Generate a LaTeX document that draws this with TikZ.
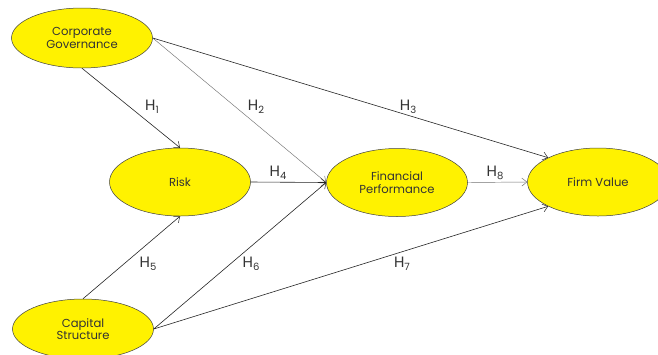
\documentclass[tikz,border=0pt]{standalone}
\usepackage{fontspec}
\setmainfont{Poppins}
\usetikzlibrary{shapes.geometric,arrows.meta}
\newcommand\Hlab[1]{H\raisebox{-0.4ex}{\fontsize{10}{10}\selectfont #1}}
\begin{document}
\begin{tikzpicture}[x=1pt,y=-1pt,
  construct/.style={ellipse,draw=black!75,line width=0.5pt,fill=yellow,
    minimum width=141pt,minimum height=#1,inner sep=0pt,align=center,
    font=\fontsize{11.6}{12.5}\selectfont,text=black!80},
  construct/.default=68pt,
  path/.style={draw=black!85,line width=0.6pt,-{Straight Barb[length=5pt,width=8pt,line width=0.5pt]}},
  lightpath/.style={path,draw=black!55,line width=0.45pt},
  hlab/.style={font=\fontsize{15}{15}\selectfont,text=black!80,inner sep=0pt}]
\useasboundingbox (0,0) rectangle (658,354);
\fill[white] (0,0) rectangle (658,354);
\node[construct=60pt] (cg) at (82,38) {Corporate\\Governance};
\node[construct] (risk) at (180,182) {Risk};
\node[construct] (fp) at (397,182.5) {Financial\\Performance};
\node[construct] (fv) at (598,182) {Firm Value};
\node[construct=60pt] (cs) at (83,329) {Capital\\Structure};

\draw[path] (cg.south) -- (risk.north);
\draw[lightpath] (cg.east) -- (fp.west);
\draw[path] (cg.east) -- (fv.154);
\draw[path] (risk.east) -- (fp.west);
\draw[lightpath] (fp.east) -- (fv.west);
\draw[path] (cs.north) -- (risk.south);
\draw[path] (cs.east) -- (fp.west);
\draw[path] (cs.east) -- (fv.206);

\node[hlab] (h1) at (152,107) {\Hlab{1}};
\node[hlab] (h2) at (256,107) {\Hlab{2}};
\node[hlab] (h3) at (408,107) {\Hlab{3}};
\node[hlab] (h4) at (278,173) {\Hlab{4}};
\node[hlab] (h8) at (495,173) {\Hlab{8}};
\node[hlab] (h5) at (148,264) {\Hlab{5}};
\node[hlab] (h6) at (251,264) {\Hlab{6}};
\node[hlab] (h7) at (402,264) {\Hlab{7}};
\end{tikzpicture}
\end{document}
